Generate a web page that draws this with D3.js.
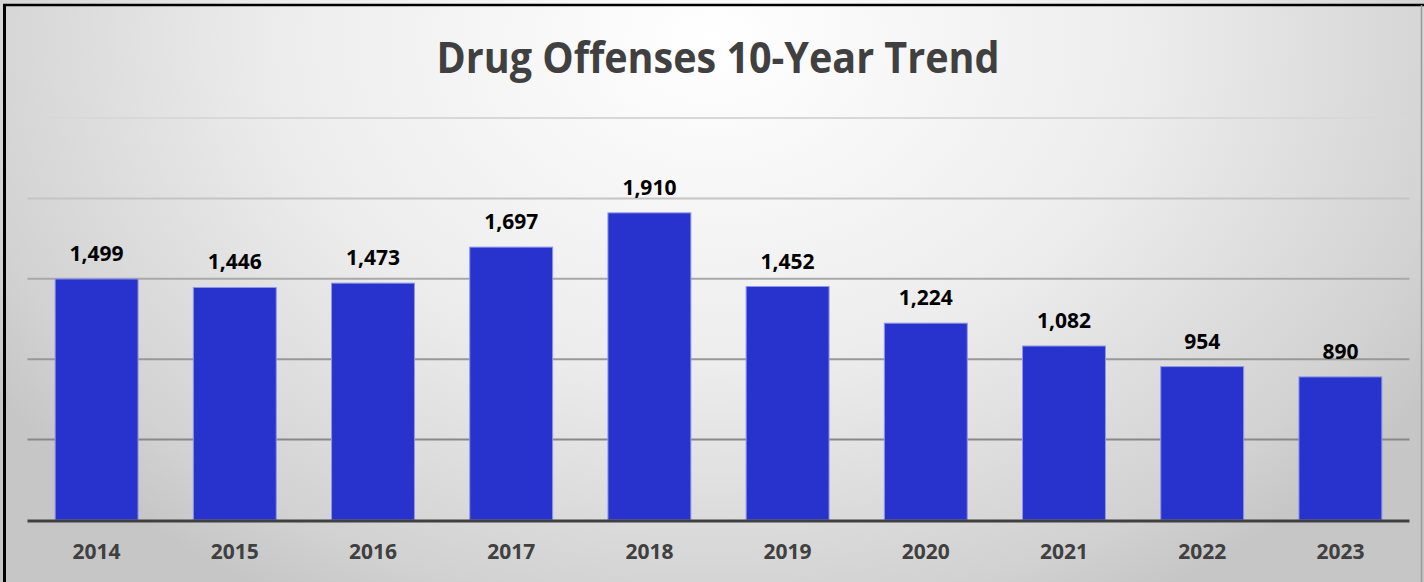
<!DOCTYPE html>
<html><head><meta charset="utf-8">
<script src="https://cdn.jsdelivr.net/npm/d3@7"></script>
<style>html,body{margin:0;padding:0;background:#fff;}svg{display:block;}</style>
</head><body>
<script>
const years = ["2014","2015","2016","2017","2018","2019","2020","2021","2022","2023"];
const offenses = [1499,1446,1473,1697,1910,1452,1224,1082,954,890];
const yTicks = [500,1000,1500,2000,2500];
const titleText = "Drug Offenses 10-Year Trend";

const W = 1424, H = 582;
const svg = d3.select("body").append("svg").attr("width", W).attr("height", H);
const defs = svg.append("defs");

const bg = defs.append("radialGradient").attr("id","bg")
  .attr("gradientUnits","userSpaceOnUse")
  .attr("cx",712).attr("cy",40).attr("r",860)
  .attr("gradientTransform","translate(712,40) scale(1,0.75) translate(-712,-40)");
[[0,"#ffffff"],[0.5,"#ededed"],[0.88,"#d2d2d2"],[1,"#c6c6c6"]].forEach(([o,c])=>
  bg.append("stop").attr("offset",o).attr("stop-color",c));

const gridGrad = defs.append("linearGradient").attr("id","gridg")
  .attr("gradientUnits","userSpaceOnUse").attr("x1",0).attr("y1",118).attr("x2",0).attr("y2",520);
[[0,"#d8d8d8"],[0.2,"#c4c4c4"],[0.4,"#a8a8a8"],[0.6,"#989898"],[0.8,"#888888"],[1,"#808080"]].forEach(([o,c])=>
  gridGrad.append("stop").attr("offset",o).attr("stop-color",c));

svg.append("rect").attr("x",0).attr("y",0).attr("width",W).attr("height",H).attr("fill","url(#bg)");

const x = d3.scaleBand().domain(years).range([27.5, 1409.5]).paddingInner(0.4).paddingOuter(0.2);
const y = d3.scaleLinear().domain([0, 2500]).range([520, 118]);

// gridlines
svg.append("g").selectAll("line").data(yTicks).join("line")
  .attr("x1", 27.5).attr("x2", 1409.5)
  .attr("y1", d => y(d)).attr("y2", d => y(d))
  .attr("stroke", "url(#gridg)").attr("stroke-width", 2);

// bars
svg.append("g").selectAll("rect").data(offenses).join("rect")
  .attr("x", (d,i) => x(years[i]))
  .attr("y", d => y(d))
  .attr("width", x.bandwidth())
  .attr("height", d => y(0) - y(d))
  .attr("fill", "#2832cc")
  .attr("stroke", "#8e97e4").attr("stroke-width", 1);

// baseline
svg.append("line").attr("x1",27.5).attr("x2",1409.5).attr("y1",y(0)+1).attr("y2",y(0)+1)
  .attr("stroke","#404040").attr("stroke-width",3);

// value labels
svg.append("g").selectAll("text").data(offenses).join("text")
  .attr("x", (d,i) => x(years[i]) + x.bandwidth()/2)
  .attr("y", d => y(d) - 18)
  .attr("text-anchor","middle")
  .attr("font-family","'Open Sans', sans-serif").attr("font-weight",700)
  .attr("font-size",21).attr("fill","#000")
  .text(d => d3.format(",")(d));

// x axis labels
const xAxis = d3.axisBottom(x).tickSize(0).tickPadding(0);
const gx = svg.append("g").attr("transform","translate(0,559)").call(xAxis);
gx.select(".domain").remove();
gx.selectAll("text")
  .attr("font-family","'Open Sans', sans-serif").attr("font-weight",700)
  .attr("font-size",21).attr("fill","#404040").attr("dy","0");

// title
svg.append("text").attr("x",718).attr("y",73).attr("text-anchor","middle")
  .attr("font-family","'Open Sans', sans-serif").attr("font-weight",700)
  .attr("font-size",43).attr("fill","#404040")
  .attr("textLength",563).attr("lengthAdjust","spacingAndGlyphs")
  .text(titleText);

// border
svg.append("line").attr("x1",4.5).attr("x2",4.5).attr("y1",4).attr("y2",H).attr("stroke","#000").attr("stroke-width",3);
svg.append("line").attr("x1",3).attr("x2",W).attr("y1",5).attr("y2",5).attr("stroke","#000").attr("stroke-width",2.5);
svg.append("line").attr("x1",W-2.5).attr("x2",W-2.5).attr("y1",5).attr("y2",H).attr("stroke","#9a9a9a").attr("stroke-width",1.5);
</script>
</body></html>
